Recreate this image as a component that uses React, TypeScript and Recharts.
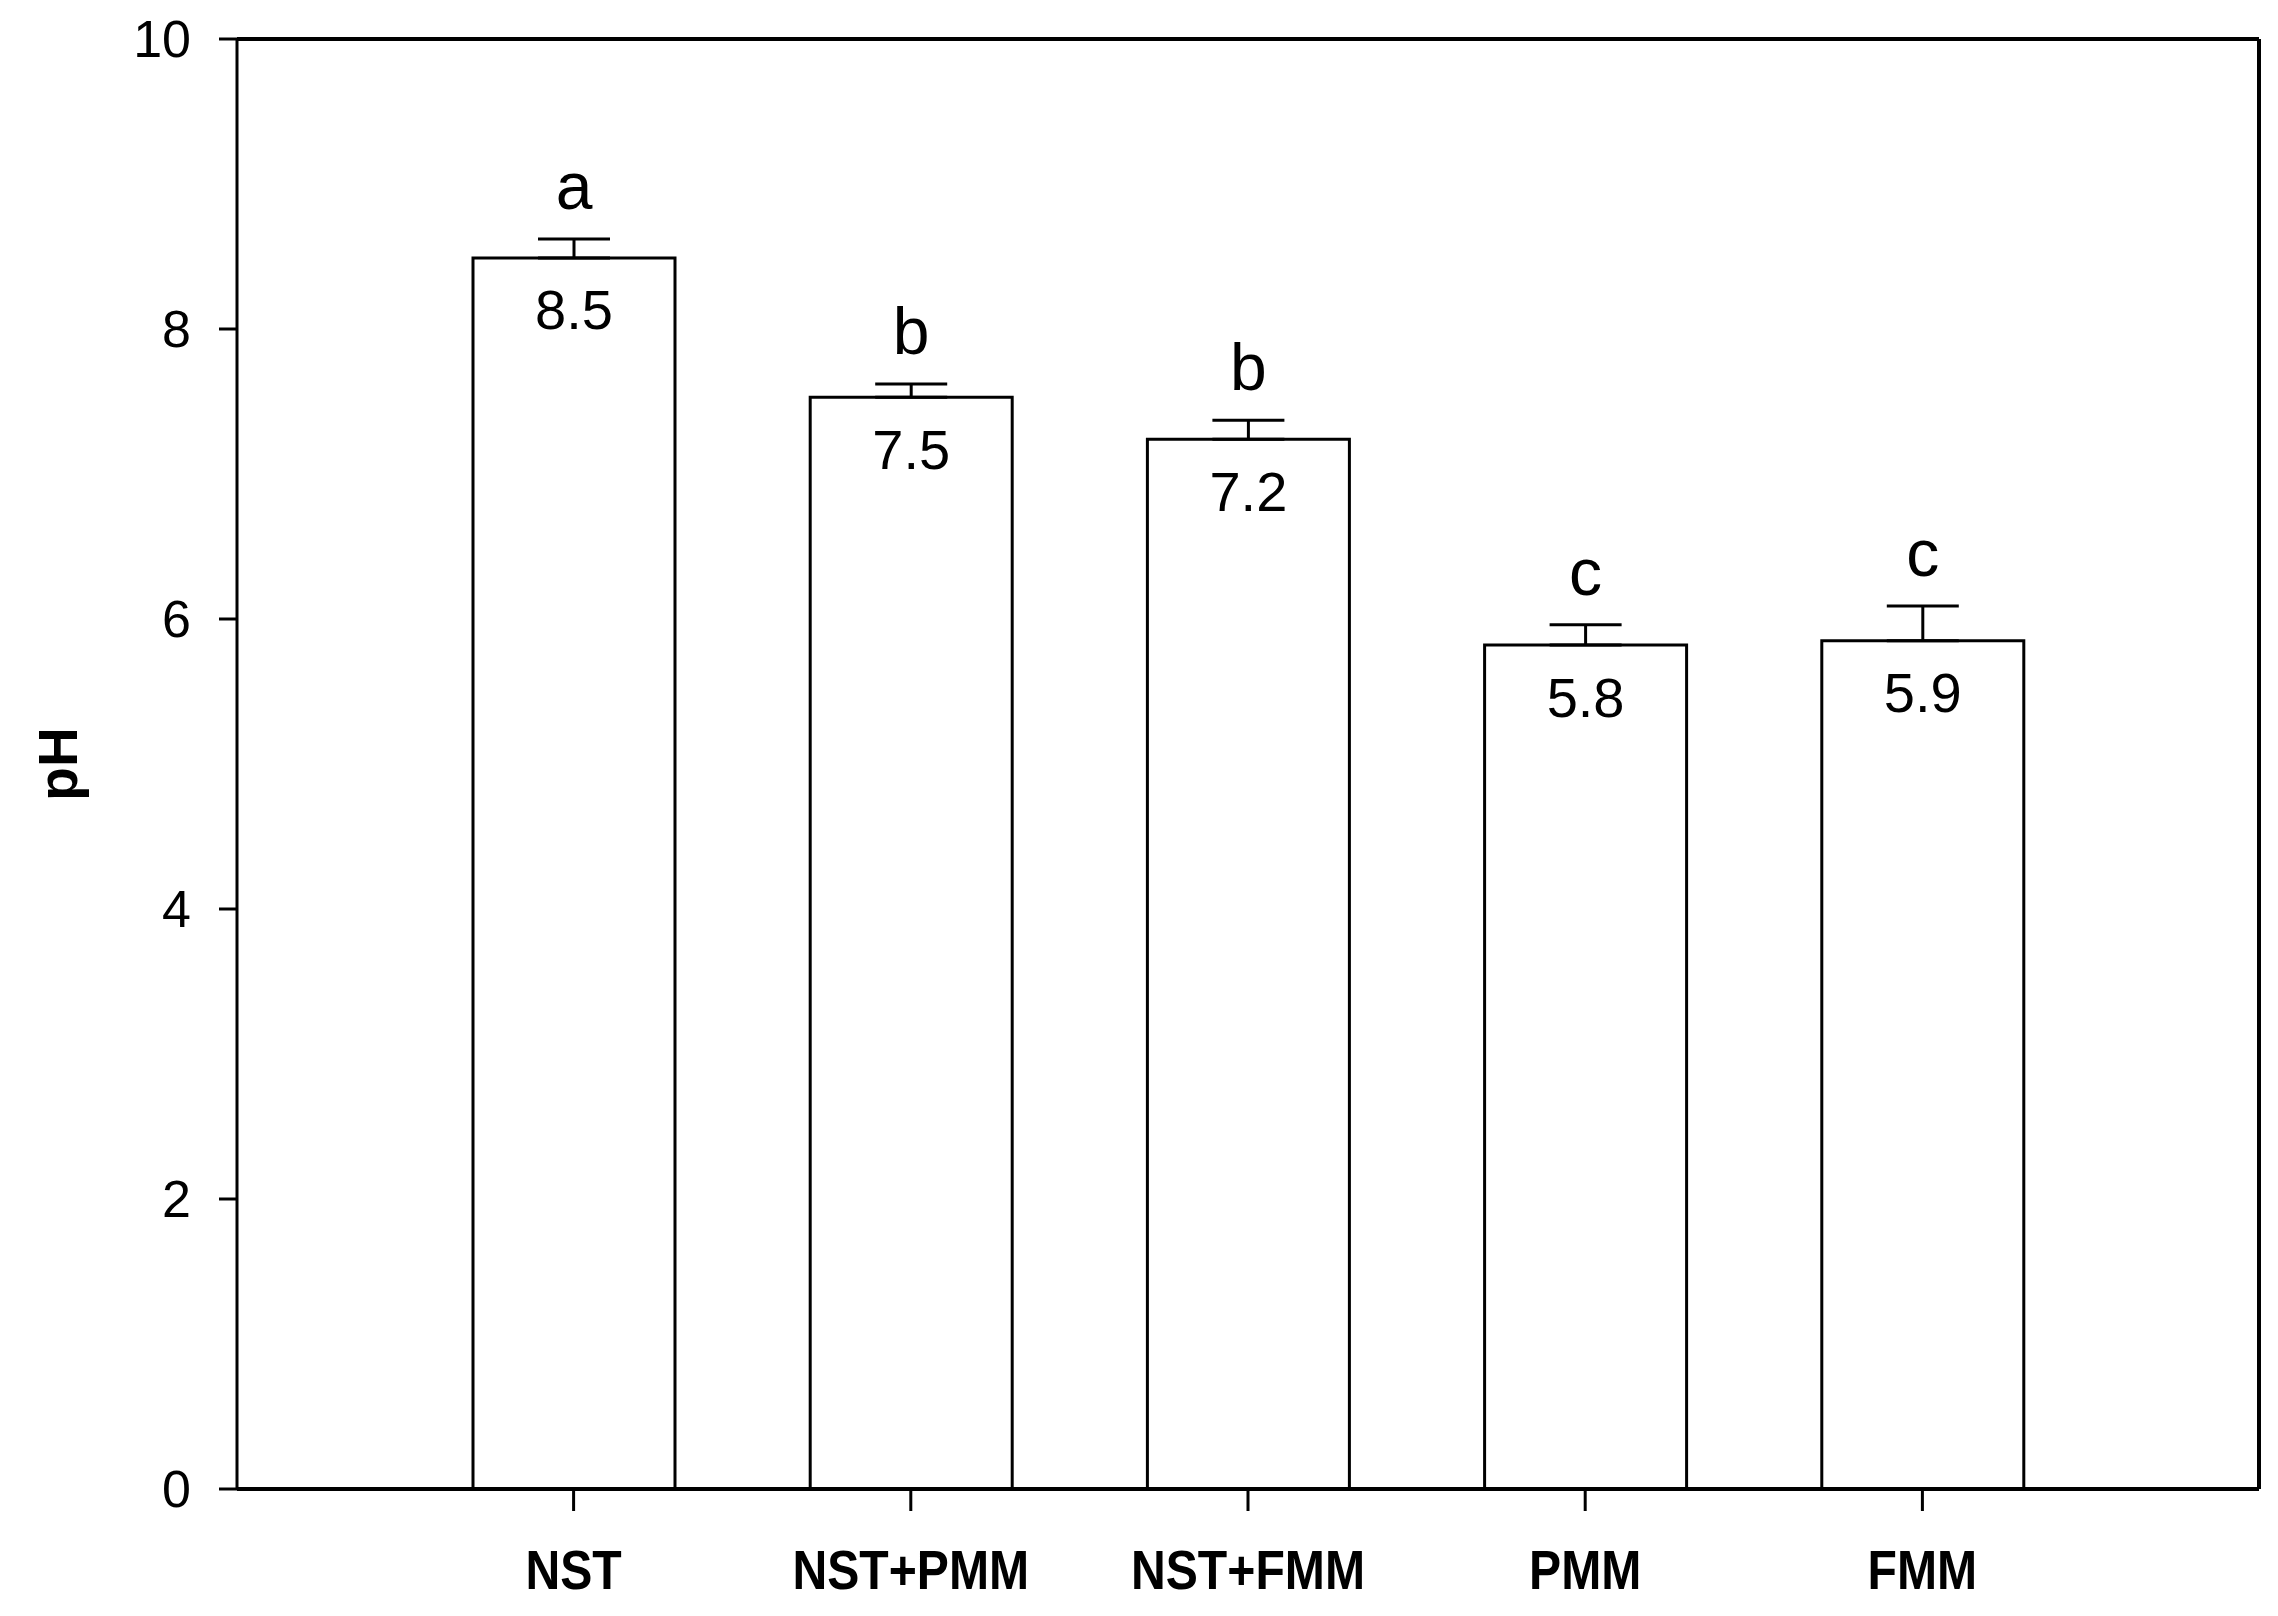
import React from 'react'
import { BarChart, Bar, XAxis, YAxis, ErrorBar, LabelList, ReferenceLine } from 'recharts'

const treatments: string[] = ['NST', 'NST+PMM', 'NST+FMM', 'PMM', 'FMM']
const phValues: number[] = [8.49, 7.53, 7.24, 5.82, 5.85]
const phErrors: number[] = [0.13, 0.09, 0.13, 0.14, 0.24]
const valueLabels: string[] = ['8.5', '7.5', '7.2', '5.8', '5.9']
const groupLetters: string[] = ['a', 'b', 'b', 'c', 'c']
const yTicks: number[] = [0, 2, 4, 6, 8, 10]

const data = treatments.map((name, i) => ({
    name,
    ph: phValues[i],
    err: [0, phErrors[i]]
}))

const font = "'Liberation Sans', Arial, Helvetica, sans-serif"

const LetterLabel = (props: any) => {
    const { x, y, width, height, index } = props
    const perUnit = height / phValues[index]
    const top = y - phErrors[index] * perUnit
    return (
        <text x={x + width / 2} y={top - 53} textAnchor="middle" dominantBaseline="central"
            fontFamily={font} fontSize={66} fill="#000">
            {groupLetters[index]}
        </text>
    )
}

const ValueLabel = (props: any) => {
    const { x, y, width, index } = props
    return (
        <text x={x + width / 2} y={y + 52} textAnchor="middle" dominantBaseline="central"
            fontFamily={font} fontSize={56} fill="#000">
            {valueLabels[index]}
        </text>
    )
}

// condensed bold category labels
const CategoryTick = (props: any) => {
    const { x, y, payload } = props
    return (
        <g transform={`translate(${x},${y}) scale(0.86,1)`}>
            <text x={0} y={0} dy="0.71em" textAnchor="middle" fontFamily={font} fontWeight="bold"
                fontSize={56} fill="#000">
                {payload.value}
            </text>
        </g>
    )
}

const AxisTitle = (props: any) => {
    const { viewBox } = props
    const cx = viewBox.x + 58
    const cy = viewBox.y + viewBox.height / 2
    return (
        <text x={cx} y={cy} transform={`rotate(-90 ${cx} ${cy})`} textAnchor="middle"
            dominantBaseline="central" fontFamily={font} fontWeight="bold" fontSize={55} fill="#000">
            pH
        </text>
    )
}

const App = () => {
    return (
        <div style={{ position: 'absolute', left: 0, top: 0, background: '#fff' }}>
            <BarChart
                width={2278}
                height={1616}
                data={data}
                margin={{ top: 38, right: 18, left: 0, bottom: 0 }}
            >
                <XAxis
                    dataKey="name"
                    padding={{ left: 168, right: 168 }}
                    height={127}
                    tickSize={22}
                    tickMargin={38}
                    axisLine={{ stroke: '#000', strokeWidth: 4 }}
                    tickLine={{ stroke: '#000', strokeWidth: 3 }}
                    tick={<CategoryTick />}
                    interval={0}
                />
                <XAxis xAxisId="top" dataKey="name" orientation="top" height={1} tick={false} tickLine={false}
                    axisLine={{ stroke: '#000', strokeWidth: 4 }} />
                <YAxis
                    domain={[0, 10]}
                    ticks={yTicks}
                    width={237}
                    tickSize={18}
                    tickMargin={28}
                    axisLine={{ stroke: '#000', strokeWidth: 3 }}
                    tickLine={{ stroke: '#000', strokeWidth: 3 }}
                    tick={{ fill: '#000', fontFamily: font, fontSize: 52 }}
                    label={{ content: AxisTitle }}
                />
                <YAxis yAxisId="right" orientation="right" width={1} domain={[0, 10]} tick={false} tickLine={false}
                    axisLine={{ stroke: '#000', strokeWidth: 4 }} />
                <ReferenceLine y={10} stroke="#000" strokeWidth={4} />
                <Bar dataKey="ph" fill="#fff" stroke="#000" strokeWidth={3} barSize={202} isAnimationActive={false}>
                    <ErrorBar dataKey="err" width={36} stroke="#000" strokeWidth={3} direction="y" />
                    <LabelList dataKey="ph" content={LetterLabel} />
                    <LabelList dataKey="ph" content={ValueLabel} />
                </Bar>
            </BarChart>
        </div>
    )
}

export default App
